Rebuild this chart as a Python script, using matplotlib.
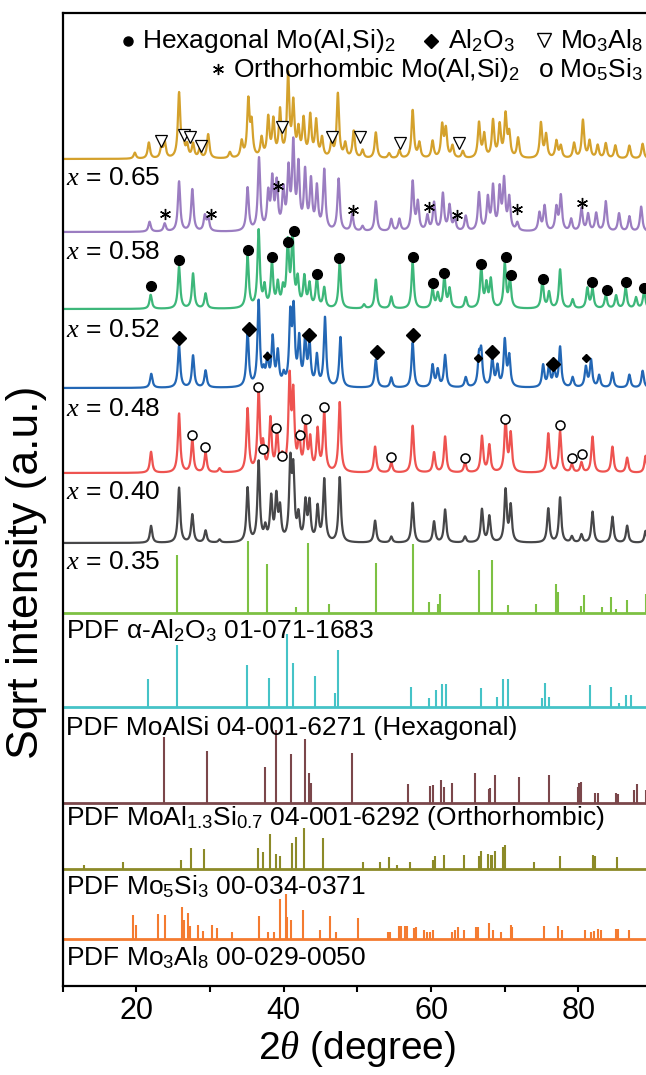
import numpy as np
import matplotlib.pyplot as plt

plt.rcParams['font.family'] = ['Liberation Sans', 'DejaVu Sans']
plt.rcParams['mathtext.fontset'] = 'custom'
plt.rcParams['mathtext.rm'] = 'Liberation Sans'
plt.rcParams['mathtext.it'] = 'Liberation Serif:italic'

# === measured patterns: (2theta, peak height) ===
gold_pos = [19.8, 21.7, 23.4, 23.85, 25.8, 26.35, 26.9, 27.7, 28.6, 29.75, 32.7, 34.3, 35.2, 35.65,
            37.0, 37.9, 38.6, 39.5, 40.6, 41.3, 42.0, 42.7, 43.6, 44.4, 45.2, 46.5, 47.35, 48.35,
            49.5, 50.7, 52.5, 54.3, 55.7, 57.5, 58.4, 60.2, 61.5, 62.0, 62.9, 64.3, 66.5, 67.2,
            68.4, 69.3, 70.1, 70.6, 71.8, 74.9, 75.6, 77.0, 77.6, 79.4, 80.6, 81.5, 82.6, 83.7,
            85.0, 86.9, 88.7]
gold_h = [6, 16, 11, 16, 64, 19, 12, 14, 9, 24, 6, 16, 56, 32,
          19, 39, 36, 46, 81, 52, 26, 37, 41, 36, 19, 16, 64, 14,
          27, 8, 26, 5, 8, 48, 15, 17, 32, 28, 12, 7, 35, 23,
          37, 32, 42, 23, 20, 35, 23, 17, 12, 15, 38, 17, 13, 15,
          13, 13, 15]

purple_pos = [21.8, 23.85, 25.8, 27.6, 29.3, 29.75, 35.1, 36.65, 37.9, 38.45, 39.05, 39.95, 40.65,
              41.3, 42.0, 42.9, 43.7, 44.5, 45.5, 47.45, 49.3, 50.7, 52.5, 54.6, 55.7, 57.5, 58.2,
              59.5, 60.4, 61.6, 62.5, 63.2, 64.7, 66.5, 67.7, 68.4, 69.3, 69.9, 70.6, 71.7, 74.7,
              75.4, 77.0, 77.6, 79.0, 80.4, 81.3, 82.4, 83.7, 85.5, 86.9, 88.5]
purple_h = [10, 8, 50, 42, 15, 13, 43, 72, 35, 48, 45, 38, 57,
            83, 62, 57, 48, 42, 60, 52, 17, 5, 30, 12, 12, 49, 28,
            15, 28, 37, 25, 12, 15, 38, 32, 43, 40, 49, 32, 8, 18,
            25, 23, 35, 12, 23, 17, 18, 30, 18, 15, 25]

green_pos = [21.95, 25.8, 27.7, 29.4, 35.1, 36.6, 37.4, 38.4, 39.2, 39.9, 40.55, 41.2, 41.9, 42.8,
             43.5, 44.5, 45.5, 47.6, 50.9, 52.5, 54.6, 57.5, 60.2, 60.9, 61.8, 62.5, 64.7, 66.8,
             67.5, 68.1, 70.0, 70.7, 75.1, 76.0, 77.5, 79.2, 81.2, 81.9, 83.7, 85.1, 86.4, 87.8, 88.9]
green_h = [14, 42, 35, 15, 52, 77, 20, 45, 23, 17, 63, 70, 27, 30,
           23, 30, 20, 45, 4, 29, 12, 46, 19, 14, 31, 19, 11, 41,
           23, 28, 44, 28, 28, 16, 39, 9, 20, 19, 14, 13, 21, 11, 18]

blue_pos = [22.03, 25.8, 27.7, 29.4, 35.1, 36.6, 37.3, 37.8, 38.5, 39.2, 40.0, 40.9, 41.35, 42.1,
            42.9, 43.5, 44.5, 45.6, 47.7, 52.5, 54.6, 57.5, 60.2, 60.9, 61.9, 64.7, 66.5, 66.8,
            68.3, 69.0, 70.0, 70.6, 75.2, 76.0, 76.7, 77.5, 79.2, 81.0, 81.7, 82.8, 84.6, 86.9, 88.7]
blue_h = [14, 42, 32, 17, 55, 85, 12, 27, 47, 33, 10, 67, 72, 45,
          45, 42, 30, 69, 50, 28, 10, 45, 22, 17, 32, 10, 28, 33,
          28, 20, 46, 30, 22, 20, 17, 40, 10, 20, 27, 12, 15, 13, 17]

red_pos = [22.0, 25.8, 27.6, 29.4, 31.3, 35.1, 36.6, 37.2, 38.2, 39.1, 39.8, 40.8, 41.3, 42.1,
           42.95, 43.6, 44.6, 45.5, 47.6, 52.4, 54.6, 57.5, 60.4, 61.9, 64.6, 66.9, 67.9, 70.1,
           70.8, 75.9, 77.5, 79.1, 80.4, 81.9, 84.6, 86.6, 89.1]
red_h = [21, 59, 33, 20, 4, 63, 80, 24, 52, 38, 13, 90, 73, 33,
         49, 31, 41, 59, 70, 26, 10, 47, 20, 36, 10, 36, 27, 52,
         38, 39, 41, 8, 10, 36, 26, 15, 17]

gray_pos = [22.0, 25.8, 27.6, 29.4, 31.3, 35.1, 36.6, 37.5, 38.3, 39.0, 39.5, 40.9, 41.3, 42.0,
            42.95, 43.5, 44.6, 45.5, 47.6, 52.4, 54.6, 57.5, 60.4, 61.9, 64.6, 66.9, 67.9, 70.1,
            70.8, 75.9, 77.5, 79.1, 80.4, 81.9, 84.6, 86.6, 89.1]
gray_h = [17, 55, 28, 12, 3, 54, 80, 13, 43, 43, 31, 75, 66, 24,
          38, 38, 34, 62, 65, 22, 6, 40, 21, 33, 6, 33, 26, 52,
          36, 34, 45, 6, 8, 31, 26, 17, 12]

# === reference cards (stick patterns) ===
al2o3_pos = [25.58, 35.15, 37.78, 41.7, 43.36, 46.2, 52.55, 57.5, 59.74, 60.97, 61.2, 66.5, 68.2,
             70.4, 74.3, 76.9, 77.2, 80.4, 80.8, 83.2, 84.4, 85.1, 86.6, 89.1]
al2o3_h = [58, 72, 49, 6, 70, 9, 50, 69, 11, 9, 19, 43, 53,
           8, 9, 29, 21, 7, 18, 6, 16, 4, 13, 19]

cyan_pos = [21.6, 25.58, 35.0, 38.0, 40.4, 41.2, 44.2, 46.9, 47.3, 57.3, 59.7, 60.6, 61.5, 62.0,
            66.8, 68.9, 69.7, 70.4, 75.1, 75.4, 76.0, 81.5, 84.4, 85.5, 86.4, 87.1, 89.5]
cyan_h = [28, 62, 42, 29, 73, 44, 31, 14, 57, 20, 9, 17, 23, 23,
          19, 10, 28, 28, 9, 24, 10, 22, 20, 4, 12, 12, 10]

hex_pos = [23.7, 29.6, 37.5, 39.0, 41.0, 42.9, 43.5, 43.7, 49.2, 56.9, 59.8, 60.2, 61.4, 61.7,
           62.9, 65.9, 67.8, 68.0, 68.7, 71.9, 76.0, 79.9, 80.1, 80.4, 82.3, 82.6, 85.1, 85.3,
           87.5, 87.9, 89.2, 89.4]
hex_h = [66, 52, 36, 73, 49, 64, 30, 20, 50, 19, 17, 18, 23, 16,
         20, 30, 14, 15, 28, 26, 28, 16, 20, 21, 10, 10, 10, 9,
         13, 19, 13, 19]

orth_pos = [12.9, 18.2, 26.0, 27.4, 29.2, 36.5, 37.2, 38.1, 38.9, 39.5, 41.1, 41.7, 42.7, 45.4,
            50.7, 53.0, 54.3, 55.4, 57.1, 60.2, 60.5, 61.7, 64.5, 66.5, 66.8, 67.7, 68.1, 68.3,
            68.7, 69.8, 70.0, 74.0, 77.5, 81.9, 82.3, 85.2, 89.3]
orth_h = [4, 7, 9, 21, 20, 21, 17, 35, 15, 13, 26, 32, 41, 31,
          7, 7, 12, 4, 7, 9, 13, 14, 14, 13, 18, 15, 14, 14,
          18, 22, 24, 7, 13, 14, 13, 12, 14]

mo5si3_pos = [19.5, 19.9, 23.0, 23.9, 26.2, 26.5, 27.0, 27.3, 28.4, 29.0, 30.3, 30.9, 33.0, 36.6,
              37.9, 38.7, 39.5, 40.3, 40.5, 41.0, 42.6, 44.9, 46.3, 47.1, 50.1, 54.2, 54.4, 55.7,
              55.9, 56.4, 56.7, 57.7, 57.9, 59.1, 59.5, 59.9, 60.2, 62.9, 63.2, 63.6, 64.5, 66.1,
              66.4, 67.8, 68.4, 69.5, 70.8, 71.0, 75.3, 77.2, 77.8, 80.9, 81.7, 82.1, 82.7, 83.1,
              85.1, 85.4, 86.9]
mo5si3_h = [24, 14, 25, 24, 32, 19, 26, 13, 14, 8, 14, 11, 7, 23,
            7, 7, 40, 45, 22, 19, 29, 9, 23, 7, 21, 7, 7, 13,
            13, 13, 13, 11, 12, 9, 7, 7, 9, 7, 9, 12, 9, 12,
            12, 16, 9, 7, 14, 12, 13, 13, 9, 9, 7, 8, 10, 9,
            10, 10, 9]

# === phase markers: (2theta, height above baseline) ===
tri_pos = [23.3, 26.5, 27.25, 28.8, 39.8, 46.5, 50.3, 55.8, 63.8]
tri_h = [18, 24, 22, 13, 32, 22, 22, 16, 16]
star_pos = [23.85, 30.1, 39.2, 49.35, 59.7, 63.5, 71.6, 80.5]
star_h = [18, 18, 46, 22, 25, 17, 23, 29]
dot_pos = [21.95, 25.8, 35.1, 38.37, 40.55, 41.36, 44.5, 47.5, 57.5, 60.3, 61.8, 66.8, 70.2,
           70.8, 75.2, 81.8, 83.8, 86.5, 88.9]
dot_h = [23, 49, 59, 52, 67, 78, 35, 51, 52, 26, 36, 45, 52, 34, 30, 27, 19, 27, 21]
dia_pos = [25.8, 35.24, 43.5, 52.6, 57.5, 68.3, 76.6]
dia_h = [50, 59, 53, 36, 53, 36, 24]
sdia_pos = [37.7, 66.3, 81.0]
sdia_h = [32, 30, 30]
ocirc_pos = [27.6, 29.37, 36.57, 37.23, 39.0, 39.76, 42.15, 42.96, 45.49, 54.6, 64.6, 70.07,
             77.5, 79.14, 80.46]
ocirc_h = [38, 26, 86, 24, 45, 17, 38, 54, 66, 16, 15, 54, 48, 15, 19]

labels = [r'$x$ = 0.65', r'$x$ = 0.58', r'$x$ = 0.52', r'$x$ = 0.48', r'$x$ = 0.40', r'$x$ = 0.35',
          'PDF α-Al$_2$O$_3$ 01-071-1683', 'PDF MoAlSi 04-001-6271 (Hexagonal)',
          'PDF MoAl$_{1.3}$Si$_{0.7}$ 04-001-6292 (Orthorhombic)',
          'PDF Mo$_5$Si$_3$ 00-034-0371', 'PDF Mo$_3$Al$_8$ 00-029-0050']
legend_row1 = ['Hexagonal Mo(Al,Si)$_2$', 'Al$_2$O$_3$', 'Mo$_3$Al$_8$']
legend_row2 = ['Orthorhombic Mo(Al,Si)$_2$', 'o Mo$_5$Si$_3$']

# vertical layout (axis units = pixels from the bottom spine)
off_gold, off_purple, off_green, off_blue, off_red, off_gray = 827, 754, 677, 598, 513, 443
off_al2o3, off_cyan, off_hex, off_orth, off_mo5si3 = 373, 279, 183, 117, 47
label_y = [808, 734, 656, 577, 494, 424, 355, 258, 168, 99, 28]

tt = np.linspace(10, 90, 4000)


def profile(pos, h, w=0.38):
    y = np.zeros_like(tt)
    for p, a in zip(pos, h):
        y += a / (1 + ((tt - p) / (w / 2)) ** 2)
    return y


fig = plt.figure(figsize=(6.46, 10.75), dpi=100)
ax = fig.add_axes([62.6 / 646, 1 - 986 / 1075, 589.6 / 646, 973 / 1075])

curves = [(gold_pos, gold_h, off_gold, '#D4A12C'),
          (purple_pos, purple_h, off_purple, '#9B7DC1'),
          (green_pos, green_h, off_green, '#3DB77A'),
          (blue_pos, blue_h, off_blue, '#2367B5'),
          (red_pos, red_h, off_red, '#EE5350'),
          (gray_pos, gray_h, off_gray, '#474749')]
for pos, h, off, c in curves:
    ax.plot(tt, off + profile(pos, h), color=c, lw=1.6)

sticks = [(al2o3_pos, al2o3_h, off_al2o3, '#7DC143'),
          (cyan_pos, cyan_h, off_cyan, '#45C3C7'),
          (hex_pos, hex_h, off_hex, '#7B474B'),
          (orth_pos, orth_h, off_orth, '#8C8A28'),
          (mo5si3_pos, mo5si3_h, off_mo5si3, '#F47B30')]
for pos, h, off, c in sticks:
    ax.vlines(pos, off, off + np.array(h), color=c, lw=1.5)
    ax.hlines(off, 10, 90, color=c, lw=2)

# markers
ax.plot(tri_pos, off_gold + np.array(tri_h), 'v', ms=8, mfc='white', mec='k', mew=0.9)
ax.plot(star_pos, off_purple + np.array(star_h), marker=(6, 2, 0), ls='none', ms=8,
        color='k', mew=1.0)
ax.plot(dot_pos, off_green + np.array(dot_h), 'o', ms=7, color='k')
ax.plot(dia_pos, off_blue + np.array(dia_h), 'D', ms=7, color='k')
ax.plot(sdia_pos, off_blue + np.array(sdia_h), 'D', ms=4.5, color='k')
ax.plot(ocirc_pos, off_red + np.array(ocirc_h), 'o', ms=6.5, mfc='white', mec='k', mew=1.1)

for txt, y in zip(labels, label_y):
    ax.text(10.4, y, txt, fontsize=19, va='center', ha='left')

# legend rows: symbol markers + text
ax.plot([18.9], [945], 'o', ms=6.5, color='k')
ax.plot([60.0], [945], 'D', ms=7, color='k')
ax.plot([75.3], [946], 'v', ms=10, mfc='white', mec='k', mew=1.0)
ax.plot([31.1], [917], marker=(6, 2, 0), ls='none', ms=8, color='k', mew=1.0)
for txt, x in zip(legend_row1, [20.8, 62.3, 77.5]):
    ax.text(x, 945, txt, fontsize=19, ha='left', va='center')
for txt, x in zip(legend_row2, [33.1, 74.5]):
    ax.text(x, 916, txt, fontsize=19, ha='left', va='center')

ax.set_xlim(10, 90)
ax.set_ylim(0, 973)
ax.set_xticks([20, 40, 60, 80])
ax.set_xticks([10, 30, 50, 70, 90], minor=True)
ax.set_yticks([])
ax.tick_params(axis='x', which='both', direction='out', length=4, width=1.5, labelsize=22)
for s in ax.spines.values():
    s.set_linewidth(1.6)
ax.set_xlabel(r'2$\theta$ (degree)', fontsize=28, labelpad=2)
fig.text(27 / 646, 1 - 572 / 1075, 'Sqrt intensity (a.u.)', fontsize=32, rotation=90,
         ha='center', va='center')

fig.savefig('out.png', dpi=100)
